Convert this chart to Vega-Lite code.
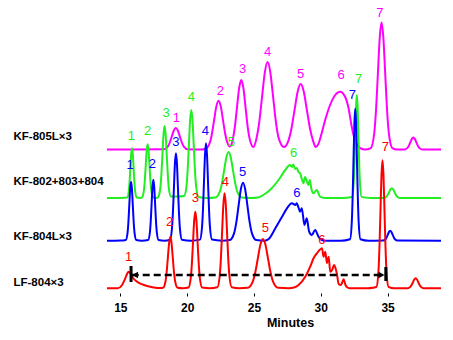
{
"$schema":"https://vega.github.io/schema/vega-lite/v6.json",
"width":334,"height":293,
"autosize":{"type":"none"},
"padding":{"left":107,"right":12,"top":0,"bottom":47},
"config":{"view":{"stroke":null},"font":"Liberation Sans"},
"datasets":{
"m":[{"t":14,"v":143.5},{"t":18.25,"v":143.7},{"t":18.55,"v":146.4},{"t":18.7,"v":150.5},{"t":18.85,"v":156.5},{"t":19,"v":162.5},{"t":19.15,"v":165},{"t":19.3,"v":162.5},{"t":19.45,"v":156.5},{"t":19.6,"v":150.5},{"t":19.75,"v":146.4},{"t":20.05,"v":143.7},{"t":21,"v":143.5},{"t":21.36,"v":144},{"t":21.69,"v":150.1},{"t":21.855,"v":159.3},{"t":22.02,"v":173.1},{"t":22.185,"v":186.6},{"t":22.35,"v":192.3},{"t":22.515,"v":186.6},{"t":22.68,"v":173.1},{"t":22.845,"v":159.3},{"t":23.01,"v":150.4},{"t":23.2,"v":146.5},{"t":23.41,"v":153.2},{"t":23.57,"v":166.1},{"t":23.73,"v":185.7},{"t":23.89,"v":204.8},{"t":24.05,"v":213},{"t":24.21,"v":204.8},{"t":24.37,"v":185.7},{"t":24.53,"v":166.2},{"t":24.69,"v":153.4},{"t":24.95,"v":146},{"t":25.2,"v":155.3},{"t":25.405,"v":171.9},{"t":25.61,"v":196.6},{"t":25.815,"v":220.7},{"t":26.02,"v":231},{"t":26.225,"v":220.7},{"t":26.43,"v":196.6},{"t":26.635,"v":171.9},{"t":26.84,"v":155.4},{"t":27.25,"v":146},{"t":27.58,"v":152.4},{"t":27.81,"v":164.8},{"t":28.04,"v":183.2},{"t":28.27,"v":201.3},{"t":28.5,"v":209},{"t":28.73,"v":201.3},{"t":28.96,"v":183.2},{"t":29.19,"v":164.8},{"t":29.42,"v":152.4},{"t":29.62,"v":146},{"t":29.85,"v":150},{"t":30,"v":156.5},{"t":30.33,"v":173},{"t":30.7,"v":188},{"t":31.08,"v":198},{"t":31.45,"v":201.3},{"t":31.83,"v":196},{"t":32.1,"v":183.5},{"t":32.3,"v":167.5},{"t":32.5,"v":155.5},{"t":32.75,"v":147.5},{"t":33,"v":144.5},{"t":33.3,"v":143.5},{"t":33.74,"v":144.9},{"t":34.01,"v":160.7},{"t":34.145,"v":184.7},{"t":34.28,"v":220.5},{"t":34.415,"v":255.5},{"t":34.55,"v":270.5},{"t":34.685,"v":255.5},{"t":34.82,"v":220.5},{"t":34.955,"v":184.7},{"t":35.09,"v":160.7},{"t":35.36,"v":144.9},{"t":35.7,"v":143.5},{"t":36.27,"v":143.6},{"t":36.49,"v":145.1},{"t":36.6,"v":147.4},{"t":36.71,"v":150.8},{"t":36.82,"v":154.1},{"t":36.93,"v":155.5},{"t":37.04,"v":154.1},{"t":37.15,"v":150.8},{"t":37.26,"v":147.4},{"t":37.37,"v":145.1},{"t":37.59,"v":143.6},{"t":39,"v":143.5}],
"g":[{"t":14,"v":95},{"t":15,"v":95.1},{"t":15.51,"v":95.5},{"t":15.63,"v":101.7},{"t":15.69,"v":111.1},{"t":15.75,"v":125.2},{"t":15.81,"v":138.9},{"t":15.87,"v":144.7},{"t":15.93,"v":138.9},{"t":15.99,"v":125.2},{"t":16.05,"v":111.1},{"t":16.11,"v":101.7},{"t":16.23,"v":95.5},{"t":16.5,"v":95.1},{"t":16.62,"v":95.6},{"t":16.76,"v":102.3},{"t":16.83,"v":112.5},{"t":16.9,"v":127.6},{"t":16.97,"v":142.4},{"t":17.04,"v":148.7},{"t":17.11,"v":142.4},{"t":17.18,"v":127.6},{"t":17.25,"v":112.5},{"t":17.32,"v":102.3},{"t":17.46,"v":95.6},{"t":17.75,"v":95.1},{"t":17.83,"v":95.8},{"t":17.99,"v":104.7},{"t":18.07,"v":118.4},{"t":18.15,"v":138.7},{"t":18.23,"v":158.5},{"t":18.31,"v":167},{"t":18.39,"v":158.5},{"t":18.47,"v":138.7},{"t":18.55,"v":118.4},{"t":18.63,"v":104.7},{"t":18.79,"v":96.5},{"t":19.25,"v":96.5},{"t":19.77,"v":97},{"t":19.95,"v":106.9},{"t":20.04,"v":123.6},{"t":20.13,"v":148.4},{"t":20.22,"v":172.7},{"t":20.31,"v":183},{"t":20.4,"v":172.7},{"t":20.49,"v":148.4},{"t":20.58,"v":123.6},{"t":20.67,"v":106.9},{"t":20.85,"v":96},{"t":21.5,"v":95},{"t":22.11,"v":95.5},{"t":22.44,"v":101.2},{"t":22.605,"v":109.9},{"t":22.77,"v":122.9},{"t":22.935,"v":135.6},{"t":23.1,"v":141},{"t":23.265,"v":135.6},{"t":23.43,"v":122.9},{"t":23.595,"v":109.9},{"t":23.76,"v":101.2},{"t":24.09,"v":95.5},{"t":24.8,"v":95},{"t":25.3,"v":95.5},{"t":25.7,"v":98},{"t":26.2,"v":103},{"t":26.84,"v":113},{"t":27.34,"v":123},{"t":27.7,"v":128},{"t":27.85,"v":126},{"t":27.95,"v":128.5},{"t":28.08,"v":124},{"t":28.2,"v":125},{"t":28.33,"v":121},{"t":28.45,"v":119.7},{"t":28.58,"v":114},{"t":28.7,"v":109.7},{"t":28.82,"v":116},{"t":28.95,"v":112},{"t":29.07,"v":108},{"t":29.18,"v":113},{"t":29.3,"v":104},{"t":29.45,"v":99.7},{"t":29.7,"v":103},{"t":29.95,"v":96.3},{"t":30.3,"v":95},{"t":31.6,"v":95},{"t":32.34,"v":96.1},{"t":32.46,"v":108.9},{"t":32.52,"v":128.5},{"t":32.58,"v":157.5},{"t":32.64,"v":185.9},{"t":32.7,"v":198},{"t":32.76,"v":185.9},{"t":32.82,"v":157.5},{"t":32.88,"v":128.5},{"t":32.94,"v":108.9},{"t":33.06,"v":96.1},{"t":33.7,"v":95},{"t":34.72,"v":95.1},{"t":34.92,"v":96.3},{"t":35.02,"v":98.2},{"t":35.12,"v":100.9},{"t":35.22,"v":103.6},{"t":35.32,"v":104.7},{"t":35.42,"v":103.6},{"t":35.52,"v":100.9},{"t":35.62,"v":98.2},{"t":35.72,"v":96.3},{"t":35.92,"v":95.1},{"t":39,"v":95}],
"b":[{"t":14,"v":52.3},{"t":15,"v":52.4},{"t":15.41,"v":53},{"t":15.54,"v":60.3},{"t":15.605,"v":71.5},{"t":15.67,"v":88.1},{"t":15.735,"v":104.4},{"t":15.8,"v":111.3},{"t":15.865,"v":104.4},{"t":15.93,"v":88.1},{"t":15.995,"v":71.5},{"t":16.06,"v":60.3},{"t":16.19,"v":53},{"t":16.6,"v":52.3},{"t":17.08,"v":53},{"t":17.21,"v":60.5},{"t":17.275,"v":72.1},{"t":17.34,"v":89.3},{"t":17.405,"v":106.1},{"t":17.47,"v":113.3},{"t":17.535,"v":106.1},{"t":17.6,"v":89.3},{"t":17.665,"v":72.1},{"t":17.73,"v":60.5},{"t":17.86,"v":53},{"t":18.3,"v":52.3},{"t":18.71,"v":53.3},{"t":18.86,"v":64.1},{"t":18.935,"v":80.7},{"t":19.01,"v":105.3},{"t":19.085,"v":129.4},{"t":19.16,"v":139.7},{"t":19.235,"v":129.4},{"t":19.31,"v":105.3},{"t":19.385,"v":80.7},{"t":19.46,"v":64.1},{"t":19.61,"v":53.3},{"t":20.3,"v":52.3},{"t":20.96,"v":53.4},{"t":21.11,"v":65.5},{"t":21.185,"v":83.9},{"t":21.26,"v":111.4},{"t":21.335,"v":138.3},{"t":21.41,"v":149.7},{"t":21.485,"v":138.3},{"t":21.56,"v":111.4},{"t":21.635,"v":83.9},{"t":21.71,"v":65.5},{"t":21.86,"v":53.4},{"t":22.6,"v":52.3},{"t":23.19,"v":52.9},{"t":23.52,"v":60.1},{"t":23.685,"v":71.1},{"t":23.85,"v":87.5},{"t":24.015,"v":103.5},{"t":24.18,"v":110.3},{"t":24.345,"v":103.5},{"t":24.51,"v":87.5},{"t":24.675,"v":71.1},{"t":24.84,"v":60.1},{"t":25.17,"v":52.9},{"t":25.8,"v":52.3},{"t":26.1,"v":54},{"t":26.6,"v":64.7},{"t":27.1,"v":76.3},{"t":27.47,"v":84.7},{"t":27.84,"v":89.7},{"t":28.1,"v":88},{"t":28.2,"v":89.7},{"t":28.32,"v":86},{"t":28.45,"v":81.3},{"t":28.58,"v":84.7},{"t":28.78,"v":68},{"t":28.95,"v":74.7},{"t":29.13,"v":61.3},{"t":29.33,"v":58},{"t":29.58,"v":63},{"t":29.83,"v":56.3},{"t":30.08,"v":53},{"t":30.3,"v":52.3},{"t":31.5,"v":52.3},{"t":32.19,"v":53.8},{"t":32.32,"v":70.2},{"t":32.385,"v":95.2},{"t":32.45,"v":132.4},{"t":32.515,"v":168.8},{"t":32.58,"v":184.3},{"t":32.645,"v":168.8},{"t":32.71,"v":132.4},{"t":32.775,"v":95.2},{"t":32.84,"v":70.2},{"t":32.97,"v":53.8},{"t":33.6,"v":52.3},{"t":34.66,"v":52.4},{"t":34.84,"v":53.7},{"t":34.93,"v":55.5},{"t":35.02,"v":58.4},{"t":35.11,"v":61.1},{"t":35.2,"v":62.3},{"t":35.29,"v":61.1},{"t":35.38,"v":58.4},{"t":35.47,"v":55.5},{"t":35.56,"v":53.7},{"t":35.74,"v":52.4},{"t":39,"v":52.3}],
"r":[{"t":14,"v":4.7},{"t":14.8,"v":4.8},{"t":15.13,"v":8},{"t":15.37,"v":14.7},{"t":15.5,"v":19},{"t":15.62,"v":21.3},{"t":15.75,"v":19.5},{"t":15.95,"v":15},{"t":16.25,"v":11.3},{"t":16.6,"v":8.8},{"t":17,"v":7},{"t":17.5,"v":5.6},{"t":18,"v":5},{"t":18.2,"v":5.3},{"t":18.38,"v":11.7},{"t":18.47,"v":21.5},{"t":18.56,"v":36},{"t":18.65,"v":50.2},{"t":18.74,"v":56.3},{"t":18.83,"v":50.2},{"t":18.92,"v":36},{"t":19.01,"v":21.5},{"t":19.1,"v":11.7},{"t":19.28,"v":5.3},{"t":19.67,"v":4.8},{"t":20.1,"v":5.5},{"t":20.27,"v":15.1},{"t":20.355,"v":29.6},{"t":20.44,"v":51.2},{"t":20.525,"v":72.3},{"t":20.61,"v":81.3},{"t":20.695,"v":72.3},{"t":20.78,"v":51.2},{"t":20.865,"v":29.6},{"t":20.95,"v":15.1},{"t":21.12,"v":5.5},{"t":21.7,"v":4.8},{"t":22.26,"v":5.7},{"t":22.44,"v":17.5},{"t":22.53,"v":35.6},{"t":22.62,"v":62.4},{"t":22.71,"v":88.5},{"t":22.8,"v":99.7},{"t":22.89,"v":88.5},{"t":22.98,"v":62.4},{"t":23.07,"v":35.6},{"t":23.16,"v":17.5},{"t":23.34,"v":5.7},{"t":23.9,"v":4.8},{"t":24.53,"v":5.2},{"t":24.91,"v":11.4},{"t":25.1,"v":20.7},{"t":25.29,"v":34.6},{"t":25.48,"v":48.2},{"t":25.67,"v":54},{"t":25.86,"v":48.2},{"t":26.05,"v":34.6},{"t":26.24,"v":20.7},{"t":26.43,"v":11.4},{"t":26.81,"v":5.2},{"t":27.6,"v":4.8},{"t":28,"v":5.5},{"t":28.34,"v":8},{"t":28.84,"v":16.3},{"t":29.21,"v":26.3},{"t":29.46,"v":34.7},{"t":29.71,"v":39.7},{"t":29.91,"v":43},{"t":30.09,"v":44.7},{"t":30.21,"v":36.3},{"t":30.34,"v":41.3},{"t":30.46,"v":30},{"t":30.59,"v":36.3},{"t":30.71,"v":21.3},{"t":30.85,"v":23},{"t":31,"v":28},{"t":31.1,"v":25},{"t":31.21,"v":19},{"t":31.34,"v":9},{"t":31.5,"v":8},{"t":31.59,"v":10},{"t":31.71,"v":13.7},{"t":31.85,"v":8},{"t":32,"v":5.5},{"t":32.2,"v":4.7},{"t":33.5,"v":4.7},{"t":33.9,"v":5.2},{"t":34.17,"v":6.1},{"t":34.32,"v":22},{"t":34.395,"v":46.3},{"t":34.47,"v":82.4},{"t":34.545,"v":117.7},{"t":34.62,"v":132.7},{"t":34.695,"v":117.7},{"t":34.77,"v":82.4},{"t":34.845,"v":46.3},{"t":34.92,"v":22},{"t":35.07,"v":6.1},{"t":35.5,"v":4.7},{"t":36.5,"v":4.8},{"t":36.7,"v":6.1},{"t":36.8,"v":8},{"t":36.9,"v":10.8},{"t":37,"v":13.5},{"t":37.1,"v":14.7},{"t":37.2,"v":13.5},{"t":37.3,"v":10.8},{"t":37.4,"v":8},{"t":37.5,"v":6.1},{"t":37.7,"v":4.8},{"t":39,"v":4.7}],
"lab":[
{"s":"m","n":"1","t":19.19,"v":174.7},{"s":"m","n":"2","t":22.48,"v":202.3},{"s":"m","n":"3","t":24.15,"v":224},{"s":"m","n":"4","t":26.02,"v":241.3},{"s":"m","n":"5","t":28.5,"v":219},{"s":"m","n":"6","t":31.53,"v":218},{"s":"m","n":"7","t":34.43,"v":280.3},
{"s":"g","n":"1","t":15.83,"v":157},{"s":"g","n":"2","t":17.04,"v":162.3},{"s":"g","n":"3","t":18.42,"v":180.3},{"s":"g","n":"4","t":20.31,"v":195.7},{"s":"g","n":"5","t":23.3,"v":151.3},{"s":"g","n":"6","t":27.96,"v":139.7},{"s":"g","n":"7","t":32.825,"v":214},
{"s":"b","n":"1","t":15.73,"v":128},{"s":"b","n":"2","t":17.4,"v":129},{"s":"b","n":"3","t":19.16,"v":150.7},{"s":"b","n":"4","t":21.36,"v":162},{"s":"b","n":"5","t":24.15,"v":121.3},{"s":"b","n":"6","t":28.22,"v":100.3},{"s":"b","n":"7","t":32.37,"v":198},
{"s":"r","n":"1","t":15.62,"v":35.7},{"s":"r","n":"2","t":18.69,"v":71.3},{"s":"r","n":"3","t":20.61,"v":94.7},{"s":"r","n":"4","t":22.85,"v":111.3},{"s":"r","n":"5","t":25.85,"v":64.7},{"s":"r","n":"6","t":30.09,"v":53},{"s":"r","n":"7","t":34.83,"v":146.3}],
"names":[{"name":"KF-805L×3","t":7.0,"v":156.3},{"name":"KF-802+803+804","t":7.0,"v":111.3},{"name":"KF-804L×3","t":7.0,"v":55.7},{"name":"LF-804×3","t":7.0,"v":9.7}],
"dash":[{"t":15.85,"t2":34.8,"v":18}],
"bars":[{"t":15.8,"v":11,"v2":27},{"t":34.87,"v":12,"v2":26}],
"heads":[{"t":16.1,"v":18,"dir":"left"},{"t":34.55,"v":18,"dir":"right"}]
},
"encoding":{
"x":{"field":"t","type":"quantitative","scale":{"domain":[14,39],"nice":false,"zero":false},
"axis":{"values":[15,20,25,30,35],"domain":false,"grid":false,"tickSize":3,"tickColor":"black","labelFontSize":12,"labelFontWeight":"bold","labelColor":"black","labelPadding":6,"labelFlush":false,"title":"Minutes","titleFontSize":12.5,"titleFontWeight":"bold","titleColor":"black","titleX":183,"titleY":29,"titleBaseline":"middle"}},
"y":{"field":"v","type":"quantitative","scale":{"domain":[0,293],"nice":false,"zero":false},"axis":null}
},
"layer":[
{"data":{"name":"m"},"mark":{"type":"line","interpolate":"monotone","strokeWidth":2,"color":"#ff00ff"},"encoding":{}},
{"data":{"name":"g"},"mark":{"type":"line","interpolate":"monotone","strokeWidth":2,"color":"#22ee22"},"encoding":{}},
{"data":{"name":"b"},"mark":{"type":"line","interpolate":"monotone","strokeWidth":2,"color":"#0000ff"},"encoding":{}},
{"data":{"name":"r"},"mark":{"type":"line","interpolate":"monotone","strokeWidth":2,"color":"#ff0000"},"encoding":{}},
{"data":{"name":"dash"},"mark":{"type":"rule","color":"black","strokeWidth":2.5,"strokeDash":[7,4]},"encoding":{"x2":{"field":"t2"}}},
{"data":{"name":"bars"},"mark":{"type":"rule","color":"black","strokeWidth":3},"encoding":{"y2":{"field":"v2"}}},
{"data":{"name":"heads"},"mark":{"type":"point","filled":true,"color":"black","opacity":1,"size":45},"encoding":{"shape":{"field":"dir","type":"nominal","scale":{"domain":["left","right"],"range":["triangle-left","triangle-right"]},"legend":null}}},
{"data":{"name":"lab"},"mark":{"type":"text","fontSize":13,"baseline":"middle","align":"center"},"encoding":{"text":{"field":"n"},"color":{"field":"s","type":"nominal","scale":{"domain":["m","g","b","r"],"range":["#ff00ff","#22ee22","#0000ff","#ff0000"]},"legend":null}}},
{"data":{"name":"names"},"mark":{"type":"text","fontSize":11.5,"fontWeight":"bold","baseline":"middle","align":"left","color":"black"},"encoding":{"text":{"field":"name"}}}
]
}
